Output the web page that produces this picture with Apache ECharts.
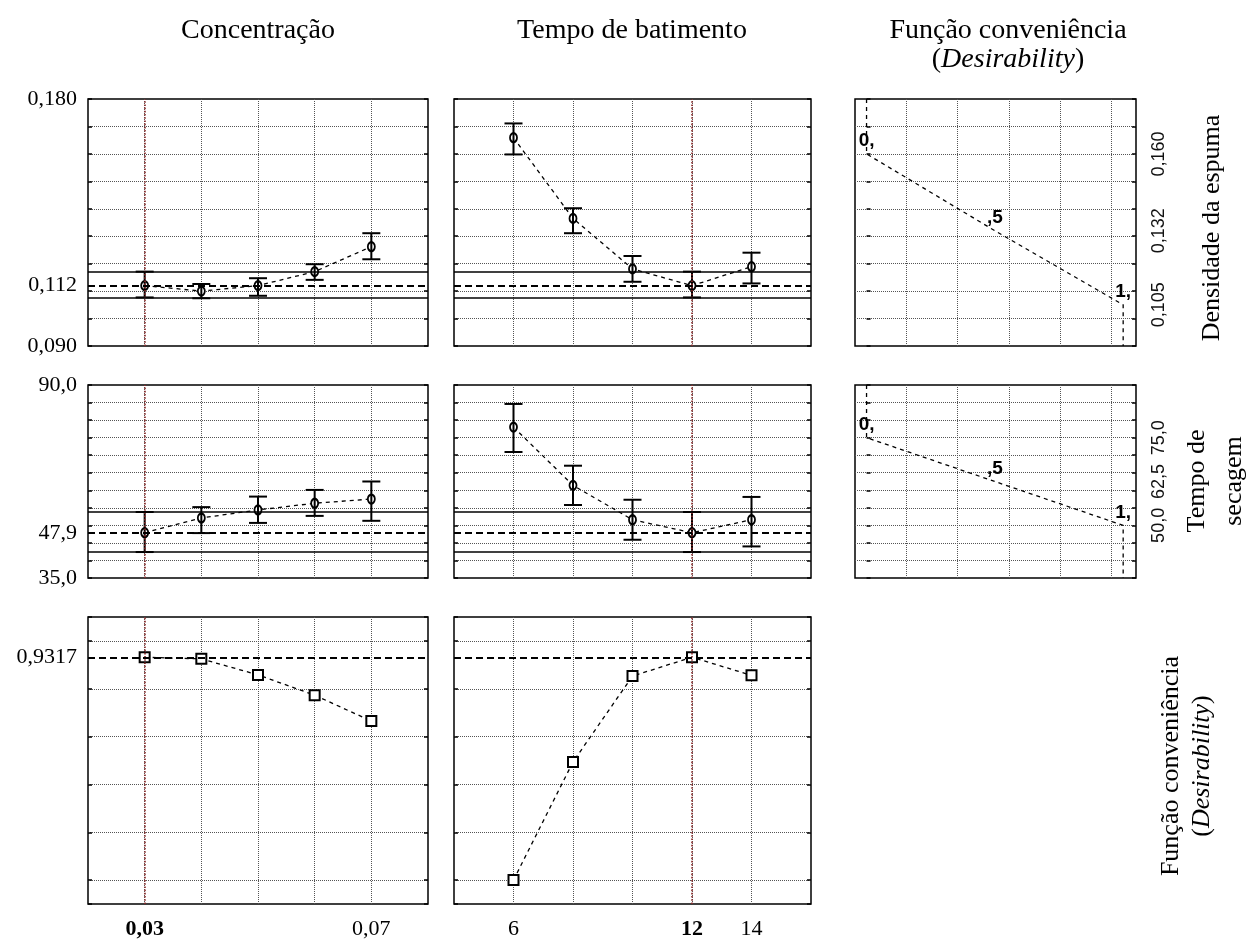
<!DOCTYPE html>
<html>
<head>
<meta charset="utf-8">
<script src="https://cdn.jsdelivr.net/npm/echarts@6/dist/echarts.min.js"></script>
<style>
html, body { margin: 0; padding: 0; background: #fff; }
#chart { width: 1248px; height: 940px; }
</style>
</head>
<body>
<div id="chart"></div>
<script>
// Factor levels
const concentracao = [0.03, 0.04, 0.05, 0.06, 0.07];
const tempoBatimento = [6, 8, 10, 12, 14];

// Foam density: predicted means with confidence limits
const densPorConc      = [0.1120, 0.1100, 0.1120, 0.1171, 0.1262];
const densPorConcLow   = [0.1077, 0.1074, 0.1083, 0.1141, 0.1216];
const densPorConcHigh  = [0.1171, 0.1126, 0.1147, 0.1198, 0.1311];
const densPorTempo     = [0.1659, 0.1365, 0.1181, 0.1120, 0.1189];
const densPorTempoLow  = [0.1598, 0.1311, 0.1134, 0.1077, 0.1128];
const densPorTempoHigh = [0.1711, 0.1402, 0.1228, 0.1171, 0.1240];

// Drying time: predicted means with confidence limits
const secPorConc      = [47.9, 52.1, 54.4, 56.3, 57.5];
const secPorConcLow   = [42.4, 47.8, 50.7, 52.7, 51.3];
const secPorConcHigh  = [53.8, 55.2, 58.2, 60.1, 62.5];
const secPorTempo     = [78.0, 61.4, 51.6, 47.9, 51.6];
const secPorTempoLow  = [70.9, 55.8, 45.9, 42.4, 44.0];
const secPorTempoHigh = [84.6, 67.0, 57.3, 53.8, 58.1];

// Overall desirability
const desPorConc  = [0.9317, 0.925, 0.858, 0.773, 0.665];
const desPorTempo = [0.0, 0.494, 0.853, 0.9317, 0.856];

// Optimum settings and confidence band of the predicted responses
const concOtima = 0.03, tempoOtimo = 12;
const densOtimo = 0.112, densBanda = [0.1077, 0.1171];
const secOtimo = 47.9, secBanda = [42.4, 53.8];
const desOtimo = 0.9317;

// Individual desirability specs: response value at d = 0, 0.5 and 1
const desNiveis = [0, 0.5, 1];
const desRotulos = ['0,', ',5', '1,'];
const densEspec = [0.160, 0.132, 0.105];
const secEspec = [75.0, 62.5, 50.0];

// Tick labels
const densTicks = [0.090, 0.112, 0.180];
const secTicks = [35.0, 47.9, 90.0];
const desTicks = [0.9317];
const concTicks = [0.03, 0.07];
const tempoTicks = [6, 12, 14];

// Axis ranges
const densRange = { min: 0.09, max: 0.18, interval: 0.01 };
const secRange = { min: 35, max: 90, interval: 5 };
const desRange = { min: -0.1, max: 1.1, splitNumber: 6 };
const concRange = { min: 0.02, max: 0.08, interval: 0.01 };
const tempoRange = { min: 4, max: 16, interval: 2 };
const dRange = { min: -0.045, max: 1.05, interval: 0.2 };

const SERIF = 'Liberation Serif';
const SANS = 'Liberation Sans';
const comma = (v, d) => v.toFixed(d).replace('.', ',');

const cols = [{ left: 88, width: 340 }, { left: 454, width: 357 }, { left: 855, width: 281 }];
const rows = [{ top: 99, height: 247 }, { top: 385, height: 193 }, { top: 617, height: 288 }];
const cells = [[0, 0], [0, 1], [0, 2], [1, 0], [1, 1], [1, 2], [2, 0], [2, 1]];

const grids = cells.map(([r, c]) => ({
  left: cols[c].left, width: cols[c].width, top: rows[r].top, height: rows[r].height,
  show: true, borderColor: '#000', borderWidth: 1.5, backgroundColor: 'transparent'
}));

const gridLine = { show: true, showMinLine: false, showMaxLine: false, lineStyle: { type: 'dotted', color: '#555', width: 1 } };
const rowRanges = [densRange, secRange, desRange];
const rowFmt = [v => comma(v, 3), v => comma(v, 1), v => comma(v, 4)];
const rowTicks = [densTicks, secTicks, desTicks];
const colRanges = [concRange, tempoRange, dRange];

const xAxes = cells.map(([r, c], i) => {
  const ax = Object.assign({
    type: 'value', gridIndex: i,
    axisLine: { show: false }, axisTick: { show: false },
    splitLine: gridLine, axisLabel: { show: false }
  }, colRanges[c]);
  if (r === 2) {
    const ticks = c === 0 ? concTicks : tempoTicks;
    const opt = c === 0 ? concOtima : tempoOtimo;
    ax.axisLabel = {
      show: true, customValues: ticks, margin: 14,
      fontFamily: SERIF, fontSize: 22, color: '#000',
      formatter: v => {
        const t = c === 0 ? comma(v, 2) : String(v);
        return Math.abs(v - opt) < 1e-9 ? '{b|' + t + '}' : t;
      },
      rich: { b: { fontWeight: 'bold', fontFamily: SERIF, fontSize: 22, color: '#000' } }
    };
  }
  return ax;
});

const yAxes = [];
cells.forEach(([r, c], i) => {
  // left axis, carries the data
  yAxes.push(Object.assign({
    type: 'value', gridIndex: i, position: 'left',
    axisLine: { show: false },
    axisTick: { show: true, inside: true, length: 4, lineStyle: { color: '#000', width: 1.5 } },
    splitLine: gridLine,
    axisLabel: c === 0 ? {
      show: true, customValues: rowTicks[r], formatter: rowFmt[r], margin: 11,
      fontFamily: SERIF, fontSize: 22, color: '#000'
    } : { show: false }
  }, rowRanges[r]));
  // right axis, mirrors the ticks
  yAxes.push(Object.assign({
    type: 'value', gridIndex: i, position: 'right',
    axisLine: { show: false },
    axisTick: { show: true, inside: true, length: 4, lineStyle: { color: '#000', width: 1.5 } },
    splitLine: { show: false },
    axisLabel: c === 2 ? {
      show: true, customValues: r === 0 ? densEspec : secEspec,
      formatter: r === 0 ? v => comma(v, 3) : v => comma(v, 1),
      rotate: 90, margin: 14, fontFamily: SANS, fontSize: 18, color: '#111'
    } : { show: false }
  }, rowRanges[r]));
});

function errorBar(params, api) {
  const x = api.value(0);
  const lo = api.coord([x, api.value(1)]);
  const hi = api.coord([x, api.value(2)]);
  const half = 9;
  const st = { stroke: '#000', lineWidth: 2 };
  return {
    type: 'group', children: [
      { type: 'line', shape: { x1: lo[0], y1: lo[1], x2: hi[0], y2: hi[1] }, style: st },
      { type: 'line', shape: { x1: lo[0] - half, y1: lo[1], x2: lo[0] + half, y2: lo[1] }, style: st },
      { type: 'line', shape: { x1: hi[0] - half, y1: hi[1], x2: hi[0] + half, y2: hi[1] }, style: st }
    ]
  };
}

const curLine = { type: 'dotted', color: '#8a2a2a', width: 1.6 };
const optLine = { type: [7, 4], color: '#000', width: 2 };
const bandLine = { type: 'solid', color: '#000', width: 1.5 };

function refLines(xOpt, yOpt, band) {
  const data = [{ xAxis: xOpt, lineStyle: curLine }, { yAxis: yOpt, lineStyle: optLine }];
  if (band) {
    data.push({ yAxis: band[0], lineStyle: bandLine });
    data.push({ yAxis: band[1], lineStyle: bandLine });
  }
  return { symbol: 'none', silent: true, precision: 6, label: { show: false }, data: data };
}

const series = [];
function addProfile(gi, xs, ys, lo, hi, xOpt, yOpt, band) {
  series.push({
    type: 'line', xAxisIndex: gi, yAxisIndex: gi * 2, z: 2,
    data: xs.map((x, k) => [x, ys[k]]),
    symbol: 'emptyCircle', symbolSize: [7, 9],
    itemStyle: { color: '#000', borderWidth: 1.3 },
    lineStyle: { type: [4, 4], color: '#000', width: 1.3 },
    markLine: refLines(xOpt, yOpt, band)
  });
  series.push({
    type: 'custom', xAxisIndex: gi, yAxisIndex: gi * 2, z: 3,
    renderItem: errorBar, encode: { x: 0, y: [1, 2] },
    data: xs.map((x, k) => [x, lo[k], hi[k]])
  });
}
function addDesir(gi, xs, ys, xOpt) {
  series.push({
    type: 'line', xAxisIndex: gi, yAxisIndex: gi * 2, z: 2,
    data: xs.map((x, k) => [x, ys[k]]),
    symbol: 'emptyRect', symbolSize: 10,
    itemStyle: { color: '#000', borderWidth: 1.6 },
    lineStyle: { type: [4, 4], color: '#000', width: 1.3 },
    markLine: refLines(xOpt, desOtimo, null)
  });
}
function addSpec(gi, spec, range) {
  const pts = [[desNiveis[0], range.max]]
    .concat(spec.map((v, k) => [desNiveis[k], v]))
    .concat([[desNiveis[2], range.min]]);
  // dashed desirability profile
  series.push({
    type: 'line', xAxisIndex: gi, yAxisIndex: gi * 2, z: 2,
    data: pts, symbol: 'none',
    lineStyle: { type: [4, 4], color: '#000', width: 1.3 }
  });
  // d = 0, 0.5, 1 markers
  series.push({
    type: 'scatter', xAxisIndex: gi, yAxisIndex: gi * 2, z: 3,
    data: spec.map((v, k) => ({ value: [desNiveis[k], v], name: desRotulos[k] })),
    symbolSize: 1, itemStyle: { color: '#000', opacity: 0 },
    label: {
      show: true, position: 'top', distance: 3, formatter: p => p.name,
      fontFamily: SANS, fontWeight: 'bold', fontSize: 19, color: '#000', opacity: 1
    }
  });
}

addProfile(0, concentracao, densPorConc, densPorConcLow, densPorConcHigh, concOtima, densOtimo, densBanda);
addProfile(1, tempoBatimento, densPorTempo, densPorTempoLow, densPorTempoHigh, tempoOtimo, densOtimo, densBanda);
addSpec(2, densEspec, densRange);
addProfile(3, concentracao, secPorConc, secPorConcLow, secPorConcHigh, concOtima, secOtimo, secBanda);
addProfile(4, tempoBatimento, secPorTempo, secPorTempoLow, secPorTempoHigh, tempoOtimo, secOtimo, secBanda);
addSpec(5, secEspec, secRange);
addDesir(6, concentracao, desPorConc, concOtima);
addDesir(7, tempoBatimento, desPorTempo, tempoOtimo);

const titleFont = { fontFamily: SERIF, fontSize: 28, fill: '#000', textAlign: 'center', textVerticalAlign: 'middle' };
const italic = { fontFamily: SERIF, fontSize: 28, fontStyle: 'italic', fill: '#000' };
const italicSide = { fontFamily: SERIF, fontSize: 26, fontStyle: 'italic', fill: '#000' };
function txt(x, y, text, rot, extra) {
  return {
    type: 'text', x: x, y: y, rotation: rot || 0, silent: true,
    style: Object.assign({ text: text, rich: { i: rot ? italicSide : italic } }, titleFont, extra || {})
  };
}

const side = { fontSize: 26 };
const graphic = [
  txt(258, 31, 'Concentração'),
  txt(632, 31, 'Tempo de batimento'),
  txt(1008, 31, 'Função conveniência'),
  txt(1008, 60, '({i|Desirability})'),
  txt(1212, 228, 'Densidade da espuma', Math.PI / 2, side),
  txt(1216, 481, 'Tempo de\nsecagem', Math.PI / 2, Object.assign({ lineHeight: 37 }, side)),
  txt(1187, 766, 'Função conveniência\n({i|Desirability})', Math.PI / 2, Object.assign({ lineHeight: 31 }, side))
];

const chart = echarts.init(document.getElementById('chart'), null, { renderer: 'canvas' });
chart.setOption({
  backgroundColor: '#fff',
  animation: false,
  textStyle: { fontFamily: SERIF },
  grid: grids,
  xAxis: xAxes,
  yAxis: yAxes,
  series: series,
  graphic: graphic
});
</script>
</body>
</html>
